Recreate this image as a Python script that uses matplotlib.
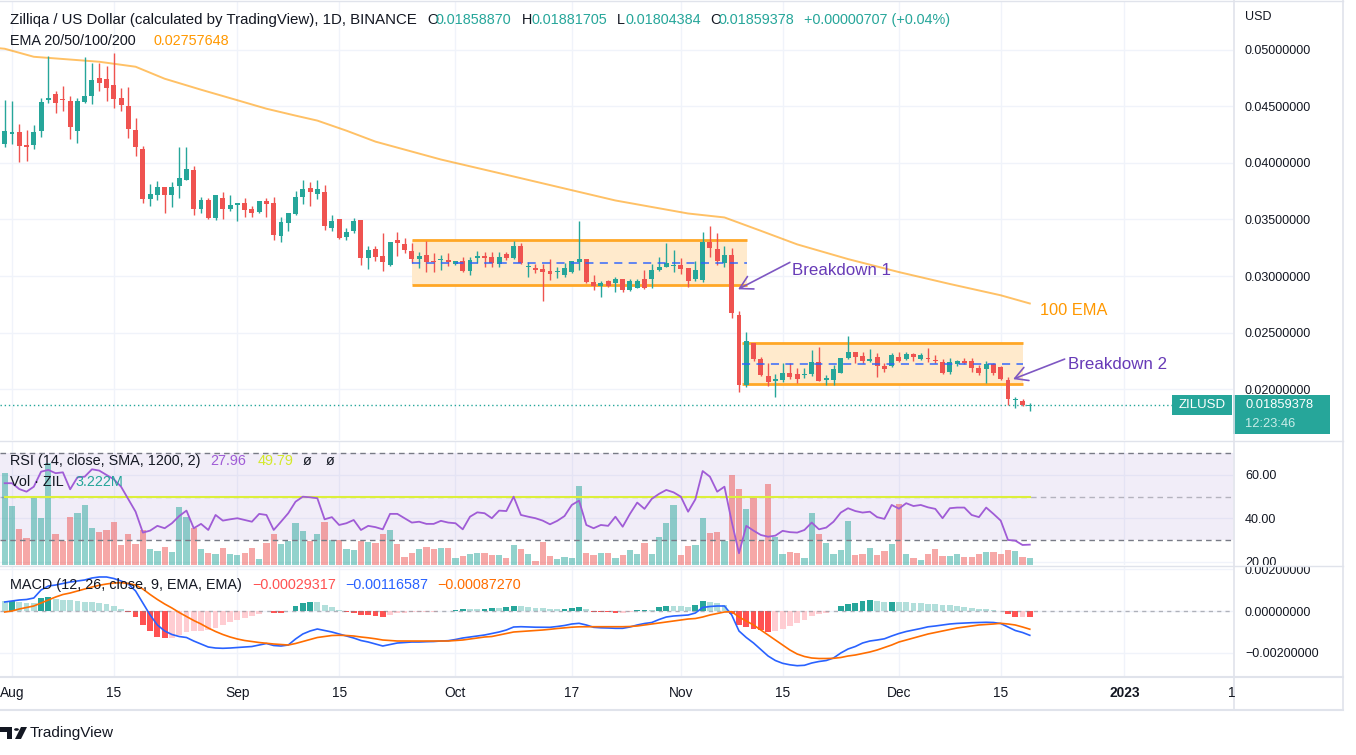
import matplotlib
matplotlib.use("Agg")
import matplotlib.pyplot as plt
import matplotlib.dates as mdates
import numpy as np
import pandas as pd
from matplotlib.lines import Line2D
from matplotlib.patches import Rectangle, Polygon, Circle
from matplotlib.ticker import FuncFormatter
from matplotlib.transforms import Bbox, TransformedBbox

plt.rcParams["font.family"] = ["Liberation Sans", "DejaVu Sans"]

W, H = 1356, 755
TEAL = "#26a69a"
RED = "#ef5350"
INK = "#131722"
GRID = "#f0f3fa"
EDGE = "#e0e3eb"
PURPLE = "#673ab7"

# ---------------- data (ZIL/USD, 1D, Binance) ----------------
dates = pd.date_range("2022-07-31", "2022-12-19", freq="D")

opens = [
    0.04171, 0.04259, 0.04277, 0.04162, 0.04162, 0.04285, 0.04559, 0.04612, 0.04568, 0.04550,
    0.04285, 0.04541, 0.04594, 0.04753, 0.04744, 0.04691, 0.04576, 0.04506, 0.04294, 0.04127,
    0.03677, 0.03712, 0.03783, 0.03712, 0.03800, 0.03853, 0.03941, 0.03589, 0.03668, 0.03509,
    0.03694, 0.03597, 0.03624, 0.03642, 0.03589, 0.03562, 0.03659, 0.03642, 0.03352, 0.03465,
    0.03545, 0.03703, 0.03774, 0.03721, 0.03739, 0.03421, 0.03501, 0.03342, 0.03395, 0.03492,
    0.03156, 0.03236, 0.03174, 0.03095, 0.03315, 0.03280, 0.03218, 0.03148, 0.03183, 0.03130,
    0.03139, 0.03139, 0.03104, 0.03130, 0.03042, 0.03156, 0.03174, 0.03165, 0.03104, 0.03192,
    0.03156, 0.03262, 0.03077, 0.03068, 0.03059, 0.03042, 0.03033, 0.03006, 0.03033, 0.03121,
    0.03148, 0.02945, 0.02910, 0.02954, 0.02936, 0.02971, 0.02874, 0.02892, 0.02971, 0.02971,
    0.03051, 0.03077, 0.03086, 0.03095, 0.03068, 0.02971, 0.02963, 0.03298, 0.03236, 0.03113,
    0.03183, 0.02654, 0.02036, 0.02407, 0.02266, 0.02116, 0.02072, 0.02080, 0.02142, 0.02134,
    0.02125, 0.02134, 0.02239, 0.02080, 0.02080, 0.02142, 0.02274, 0.02327, 0.02292, 0.02248,
    0.02283, 0.02204, 0.02204, 0.02283, 0.02266, 0.02310, 0.02266, 0.02274, 0.02257, 0.02239,
    0.02151, 0.02221, 0.02248, 0.02248, 0.02186, 0.02177, 0.02221, 0.02195, 0.02080, 0.01904,
    0.01895, 0.01858870,
]
highs = [
    0.04559, 0.04550, 0.04347, 0.04294, 0.04338, 0.04576, 0.04947, 0.04638, 0.04682, 0.04594,
    0.04576, 0.04938, 0.04885, 0.04885, 0.04859, 0.04973, 0.04665, 0.04673, 0.04400, 0.04153,
    0.03818, 0.03836, 0.03790, 0.03827, 0.04144, 0.04144, 0.03977, 0.03703, 0.03694, 0.03712,
    0.03747, 0.03712, 0.03645, 0.03686, 0.03615, 0.03662, 0.03694, 0.03703, 0.03518, 0.03556,
    0.03756, 0.03853, 0.03827, 0.03845, 0.03809, 0.03536, 0.03505, 0.03421, 0.03509, 0.03495,
    0.03262, 0.03262, 0.03377, 0.03300, 0.03386, 0.03333, 0.03289, 0.03209, 0.03307, 0.03201,
    0.03183, 0.03201, 0.03133, 0.03165, 0.03165, 0.03218, 0.03209, 0.03209, 0.03209, 0.03209,
    0.03307, 0.03289, 0.03121, 0.03104, 0.03104, 0.03148, 0.03077, 0.03113, 0.03133, 0.03483,
    0.03150, 0.03006, 0.02954, 0.02963, 0.02989, 0.02975, 0.02971, 0.02971, 0.03051, 0.03104,
    0.03165, 0.03289, 0.03227, 0.03156, 0.03070, 0.03130, 0.03386, 0.03439, 0.03377, 0.03263,
    0.03245, 0.02689, 0.02504, 0.02410, 0.02283, 0.02230, 0.02134, 0.02230, 0.02230, 0.02186,
    0.02186, 0.02345, 0.02372, 0.02125, 0.02213, 0.02276, 0.02469, 0.02330, 0.02327, 0.02354,
    0.02319, 0.02230, 0.02319, 0.02327, 0.02327, 0.02319, 0.02319, 0.02363, 0.02301, 0.02266,
    0.02274, 0.02257, 0.02274, 0.02274, 0.02213, 0.02248, 0.02230, 0.02204, 0.02107, 0.01931,
    0.01913, 0.01881705,
]
lows = [
    0.04145, 0.04171, 0.04012, 0.04021, 0.04127, 0.04232, 0.04532, 0.04444, 0.04462, 0.04215,
    0.04180, 0.04532, 0.04524, 0.04638, 0.04550, 0.04488, 0.04462, 0.04224, 0.04065, 0.03642,
    0.03615, 0.03668, 0.03553, 0.03606, 0.03686, 0.03850, 0.03536, 0.03553, 0.03501, 0.03492,
    0.03501, 0.03571, 0.03483, 0.03518, 0.03518, 0.03553, 0.03518, 0.03315, 0.03298, 0.03395,
    0.03536, 0.03633, 0.03615, 0.03677, 0.03403, 0.03395, 0.03330, 0.03315, 0.03377, 0.03095,
    0.03059, 0.03130, 0.03042, 0.03086, 0.03174, 0.03201, 0.03113, 0.03068, 0.03033, 0.03033,
    0.03051, 0.03086, 0.03095, 0.03040, 0.03006, 0.03113, 0.03077, 0.03077, 0.03077, 0.03139,
    0.03148, 0.03110, 0.02989, 0.03024, 0.02777, 0.02963, 0.02980, 0.02989, 0.03030, 0.03051,
    0.02936, 0.02874, 0.02813, 0.02901, 0.02857, 0.02857, 0.02866, 0.02890, 0.02883, 0.02892,
    0.03042, 0.03077, 0.03033, 0.03015, 0.02901, 0.02954, 0.02945, 0.03165, 0.03095, 0.03077,
    0.02627, 0.01975, 0.02019, 0.02248, 0.02116, 0.02028, 0.01931, 0.02063, 0.02089, 0.02054,
    0.02098, 0.02116, 0.02070, 0.02036, 0.02036, 0.02140, 0.02266, 0.02230, 0.02230, 0.02239,
    0.02107, 0.02151, 0.02195, 0.02239, 0.02257, 0.02248, 0.02257, 0.02239, 0.02230, 0.02134,
    0.02134, 0.02204, 0.02221, 0.02151, 0.02125, 0.02054, 0.02125, 0.02085, 0.01860, 0.01834,
    0.01851, 0.01804384,
]
closes = [
    0.04285, 0.04277, 0.04153, 0.04144, 0.04277, 0.04541, 0.04576, 0.04532, 0.04559, 0.04321,
    0.04550, 0.04594, 0.04735, 0.04709, 0.04665, 0.04568, 0.04515, 0.04303, 0.04144, 0.03677,
    0.03721, 0.03783, 0.03712, 0.03783, 0.03871, 0.03950, 0.03597, 0.03668, 0.03509, 0.03712,
    0.03597, 0.03624, 0.03642, 0.03580, 0.03553, 0.03659, 0.03633, 0.03359, 0.03474, 0.03553,
    0.03703, 0.03765, 0.03747, 0.03765, 0.03439, 0.03483, 0.03333, 0.03386, 0.03483, 0.03156,
    0.03227, 0.03165, 0.03121, 0.03298, 0.03289, 0.03227, 0.03148, 0.03174, 0.03121, 0.03121,
    0.03148, 0.03121, 0.03130, 0.03042, 0.03139, 0.03174, 0.03156, 0.03113, 0.03165, 0.03156,
    0.03262, 0.03113, 0.03086, 0.03051, 0.03033, 0.03015, 0.03042, 0.03068, 0.03130, 0.03148,
    0.02945, 0.02910, 0.02936, 0.02910, 0.02971, 0.02874, 0.02954, 0.02954, 0.02892, 0.03051,
    0.03077, 0.03113, 0.03095, 0.03059, 0.02954, 0.03051, 0.03298, 0.03245, 0.03130, 0.03183,
    0.02671, 0.02036, 0.02424, 0.02266, 0.02125, 0.02063, 0.02089, 0.02142, 0.02107, 0.02089,
    0.02134, 0.02239, 0.02072, 0.02098, 0.02177, 0.02274, 0.02327, 0.02283, 0.02248, 0.02266,
    0.02204, 0.02177, 0.02301, 0.02248, 0.02310, 0.02283, 0.02301, 0.02266, 0.02248, 0.02142,
    0.02239, 0.02248, 0.02230, 0.02186, 0.02142, 0.02221, 0.02142, 0.02089, 0.01913, 0.01913,
    0.01860, 0.01859378,
]
volumes_m = [
    40.3, 26.0, 15.8, 11.7, 29.3, 20.5, 45.0, 13.6, 10.6, 21.0,
    22.7, 26.4, 16.1, 14.4, 15.4, 19.1, 8.8, 13.6, 9.2, 15.4,
    7.0, 6.2, 8.1, 5.7, 25.7, 21.0, 16.4, 7.0, 5.4, 4.8,
    7.3, 4.8, 4.4, 5.4, 7.6, 2.8, 9.5, 13.6, 9.2, 10.6,
    18.6, 15.1, 10.6, 13.6, 19.1, 11.0, 11.0, 7.0, 6.6, 10.7,
    10.3, 9.8, 13.6, 15.4, 9.2, 3.7, 5.1, 7.0, 7.8, 6.9,
    7.3, 7.6, 3.2, 4.0, 4.8, 5.4, 5.4, 4.4, 4.4, 3.2,
    8.8, 7.0, 4.8, 1.8, 10.3, 4.0, 2.6, 3.4, 3.2, 34.8,
    5.4, 4.4, 5.4, 5.1, 3.2, 4.4, 6.6, 4.8, 9.5, 4.8,
    12.5, 18.6, 26.4, 4.4, 8.4, 8.8, 20.8, 14.2, 14.7, 10.6,
    39.6, 33.4, 24.6, 29.8, 10.6, 35.6, 12.5, 4.8, 5.6, 5.1,
    3.2, 23.0, 13.6, 9.8, 4.8, 6.6, 19.4, 4.4, 4.8, 7.6,
    4.4, 6.2, 9.2, 26.8, 4.8, 3.2, 2.2, 4.8, 7.0, 4.0,
    4.0, 4.8, 3.5, 3.5, 4.8, 5.9, 5.7, 4.8, 6.6, 6.2,
    3.5, 3.222,
]
rsi = [
    56.2, 56.2, 53.5, 52.3, 54.6, 61.5, 62.3, 60.8, 61.2, 53.4,
    58.9, 59.2, 62.6, 62.0, 60.0, 58.0, 54.6, 48.8, 43.1, 33.5,
    34.4, 36.6, 35.5, 37.8, 41.1, 43.6, 35.5, 37.5, 34.7, 41.6,
    39.0, 39.6, 40.1, 39.3, 38.5, 42.1, 41.6, 34.7, 38.5, 42.4,
    47.7, 50.0, 49.7, 49.3, 39.6, 40.6, 37.0, 37.8, 39.3, 34.7,
    36.6, 36.0, 35.0, 42.1, 42.1, 40.1, 38.1, 38.5, 37.5, 37.5,
    38.9, 38.1, 37.8, 35.0, 40.8, 42.8, 42.4, 40.1, 43.6, 43.4,
    50.0, 41.6, 40.8, 40.1, 39.0, 37.3, 38.9, 41.1, 46.2, 48.2,
    37.0, 35.5, 37.0, 36.6, 40.8, 36.2, 42.1, 47.3, 44.4, 49.0,
    51.3, 53.1, 52.0, 50.0, 43.1, 48.8, 61.8, 59.2, 52.3, 54.6,
    38.5, 24.0, 36.6, 34.4, 32.4, 31.6, 32.1, 34.3, 33.7, 33.5,
    34.7, 38.1, 35.0, 35.8, 38.5, 42.7, 44.7, 43.4, 42.7, 43.1,
    40.6, 39.8, 46.2, 44.5, 47.0, 45.7, 46.2, 45.1, 44.4, 40.1,
    44.7, 45.0, 45.0, 41.6, 40.6, 45.0, 42.1, 39.0, 30.1, 29.8,
    27.8, 27.96,
]
rsi_ma = 49.79
# MACD and signal in thousandths of a dollar
macd_k = [
    0.432, 0.480, 0.528, 0.552, 0.623, 1.007, 1.199, 1.247, 1.319, 1.391,
    1.439, 1.487, 1.583, 1.631, 1.631, 1.559, 1.439, 1.295, 0.959, 0.384,
    -0.192, -0.671, -0.959, -1.127, -1.223, -1.271, -1.439, -1.583, -1.727, -1.775,
    -1.789, -1.775, -1.751, -1.727, -1.703, -1.631, -1.559, -1.655, -1.679, -1.631,
    -1.343, -1.103, -0.959, -0.863, -0.935, -1.007, -1.103, -1.199, -1.295, -1.415,
    -1.487, -1.583, -1.679, -1.607, -1.535, -1.511, -1.487, -1.487, -1.472, -1.463,
    -1.439, -1.424, -1.367, -1.295, -1.247, -1.199, -1.151, -1.079, -1.007, -0.911,
    -0.767, -0.753, -0.767, -0.777, -0.782, -0.782, -0.743, -0.695, -0.623, -0.590,
    -0.671, -0.782, -0.806, -0.815, -0.830, -0.830, -0.767, -0.671, -0.600, -0.552,
    -0.408, -0.288, -0.240, -0.216, -0.192, -0.096, 0.168, 0.216, 0.240, 0.240,
    -0.192, -0.959, -1.271, -1.535, -1.846, -2.158, -2.374, -2.508, -2.580, -2.623,
    -2.604, -2.494, -2.422, -2.374, -2.254, -2.014, -1.822, -1.703, -1.535, -1.439,
    -1.391, -1.333, -1.199, -1.079, -0.983, -0.911, -0.839, -0.758, -0.719, -0.671,
    -0.623, -0.595, -0.576, -0.561, -0.552, -0.542, -0.552, -0.600, -0.767, -0.935,
    -1.031, -1.16587,
]
signal_k = [
    -0.048, 0.000, 0.096, 0.168, 0.240, 0.384, 0.528, 0.671, 0.791, 0.863,
    0.959, 1.055, 1.151, 1.233, 1.295, 1.343, 1.357, 1.319, 1.247, 1.055,
    0.791, 0.552, 0.336, 0.144, -0.072, -0.264, -0.456, -0.623, -0.815, -0.983,
    -1.127, -1.247, -1.343, -1.415, -1.463, -1.511, -1.549, -1.583, -1.607, -1.631,
    -1.559, -1.463, -1.367, -1.271, -1.223, -1.175, -1.165, -1.175, -1.199, -1.247,
    -1.285, -1.333, -1.391, -1.415, -1.439, -1.439, -1.439, -1.439, -1.439, -1.439,
    -1.439, -1.439, -1.415, -1.391, -1.343, -1.295, -1.247, -1.223, -1.151, -1.079,
    -1.007, -0.983, -0.959, -0.935, -0.911, -0.878, -0.839, -0.806, -0.777, -0.758,
    -0.753, -0.753, -0.753, -0.753, -0.753, -0.753, -0.743, -0.719, -0.671, -0.623,
    -0.576, -0.528, -0.480, -0.432, -0.384, -0.360, -0.288, -0.192, -0.120, -0.048,
    -0.034, -0.288, -0.480, -0.671, -0.911, -1.151, -1.391, -1.631, -1.870, -2.062,
    -2.182, -2.254, -2.278, -2.278, -2.269, -2.230, -2.158, -2.110, -2.038, -1.966,
    -1.870, -1.751, -1.631, -1.487, -1.391, -1.295, -1.199, -1.103, -1.031, -0.959,
    -0.887, -0.815, -0.767, -0.719, -0.671, -0.647, -0.623, -0.590, -0.623, -0.671,
    -0.767, -0.87270,
]
ema_dates = ["2022-07-30", "2022-07-31", "2022-08-04", "2022-08-13", "2022-08-18", "2022-08-22",
             "2022-08-27", "2022-09-01", "2022-09-05", "2022-09-09", "2022-09-12", "2022-09-16",
             "2022-09-20", "2022-09-29", "2022-10-09", "2022-10-23", "2022-11-02", "2022-11-07",
             "2022-11-12", "2022-11-17", "2022-11-24", "2022-12-01", "2022-12-08", "2022-12-15",
             "2022-12-19"]
ema_100 = [0.05015, 0.05009, 0.04938, 0.04894, 0.04850, 0.04744, 0.04647, 0.04554, 0.04479,
           0.04418, 0.04374, 0.04285, 0.04188, 0.04030, 0.03880, 0.03668, 0.03553, 0.03518,
           0.03400, 0.03280, 0.03150, 0.03035, 0.02930, 0.02830, 0.027576]

# consolidation ranges: start, end, low, high
ranges = [("2022-09-25 00:00", "2022-11-10 02:00", 0.02918, 0.03315),
          ("2022-11-09 10:00", "2022-12-18 02:00", 0.02042, 0.02404)]

price_ticks = [0.020, 0.025, 0.030, 0.035, 0.040, 0.045, 0.050]
rsi_ticks = [20, 40, 60]
macd_ticks = [-0.002, 0.0, 0.002]
time_ticks = ["2022-08-01", "2022-08-15", "2022-09-01", "2022-09-15", "2022-10-01", "2022-10-17",
              "2022-11-01", "2022-11-15", "2022-12-01", "2022-12-15", "2023-01-01"]
time_labels = ["Aug", "15", "Sep", "15", "Oct", "17", "Nov", "15", "Dec", "15", "2023"]

# ---------------- figure ----------------
fig = plt.figure(figsize=(W / 100, H / 100), dpi=100)
fig.patch.set_facecolor("white")


def frame(x0, y0, x1, y1):
    return [x0 / W, 1 - y1 / H, (x1 - x0) / W, (y1 - y0) / H]


def fline(x0, y0, x1, y1, color=EDGE, lw=1.0):
    fig.add_artist(Line2D([x0 / W, x1 / W], [1 - y0 / H, 1 - y1 / H], color=color, lw=lw))


def ftext(x, y, s, color=INK, size=10.4, **kw):
    fig.text(x / W, 1 - y / H, s, color=color, fontsize=size, va="center", **kw)


xd = mdates.date2num(dates)
o, hi, lo, c = (np.array(v) for v in (opens, highs, lows, closes))
up = c >= o
candle_col = np.where(up, TEAL, RED)

ax = fig.add_axes(frame(0, 1, 1233, 440))
ax_band = fig.add_axes(frame(0, 441, 1233, 565), sharex=ax)
ax_vol = fig.add_axes(frame(0, 441, 1233, 565), sharex=ax)
ax_rsi = fig.add_axes(frame(0, 441, 1233, 565), sharex=ax)
ax_macd = fig.add_axes(frame(0, 566, 1233, 676), sharex=ax)
ax_band.set_zorder(1)
ax_vol.set_zorder(2)
ax_rsi.set_zorder(3)
ax_vol.patch.set_visible(False)
ax_rsi.patch.set_visible(False)

aug1 = mdates.date2num(pd.Timestamp("2022-08-01"))
ax.set_xlim(aug1 - 1.65, aug1 + 167.95)
ax.set_xticks(mdates.date2num(pd.to_datetime(time_ticks)))
ax.set_xticklabels(time_labels)

for a in (ax, ax_band, ax_vol, ax_rsi, ax_macd):
    for s in a.spines.values():
        s.set_visible(False)
    a.tick_params(length=0)
    if a is not ax_macd:
        a.tick_params(axis="x", labelbottom=False)

# ---- price panel
ax.set_ylim(0.01551, 0.05431)
ax.yaxis.tick_right()
ax.set_yticks(price_ticks)
ax.yaxis.set_major_formatter(FuncFormatter(lambda v, _: f"{v:.8f}"))
ax.tick_params(axis="y", pad=8.6, labelsize=9, labelcolor=INK)
ax.grid(True, color=GRID, lw=1)
ax.set_axisbelow(True)

for start, end, low, high in ranges:
    x0, x1 = mdates.date2num(pd.Timestamp(start)), mdates.date2num(pd.Timestamp(end))
    ax.add_patch(Rectangle((x0, low), x1 - x0, high - low, facecolor="#ffeacc", edgecolor="none", zorder=1))
    ax.hlines([low, high], x0, x1, color="#ffa726", lw=2, zorder=2)
    ax.hlines((low + high) / 2, x0, x1, color="#2962ff", lw=1.3, alpha=0.8,
              linestyles=(0, (4.5, 3.5)), zorder=6)

ax.plot(mdates.date2num(pd.to_datetime(ema_dates)), ema_100, color="#ff9800", alpha=0.6, lw=1.4, zorder=2)

body_min = 0.00009
body_h = np.maximum(np.abs(c - o), body_min)
body_lo = np.minimum(o, c) - (body_h - np.abs(c - o)) / 2
ax.vlines(xd, lo, hi, colors=candle_col, lw=1, zorder=4)
ax.bar(xd, body_h, bottom=body_lo, width=0.68, color=candle_col, zorder=5)

ax.axhline(c[-1], color=TEAL, lw=1, ls=(0, (1, 2)), zorder=3)

arrow = dict(arrowstyle="->,head_length=0.5,head_width=0.28", color="#7e57c2", lw=1.2,
             shrinkA=0, shrinkB=0, mutation_scale=18)
t = lambda s: mdates.date2num(pd.Timestamp(s))
ax.annotate("", xy=(t("2022-11-08 21:00"), 0.02883), xytext=(t("2022-11-16 00:00"), 0.03121),
            arrowprops=arrow, zorder=7)
ax.text(t("2022-11-16 07:00"), 0.03051, "Breakdown 1", color=PURPLE, fontsize=12.2, va="center", zorder=7)
ax.annotate("", xy=(t("2022-12-16 17:00"), 0.02089), xytext=(t("2022-12-23 19:00"), 0.02266),
            arrowprops=arrow, zorder=7)
ax.text(t("2022-12-24 07:00"), 0.02222, "Breakdown 2", color=PURPLE, fontsize=12.2, va="center", zorder=7)
ax.text(t("2022-12-20 10:00"), 0.02698, "100 EMA", color="#ff9800", fontsize=11.8, va="center", zorder=7)

# ---- RSI + volume panel
ax_band.set_ylim(18.6, 75.6)
ax_band.axhspan(30, 70, color="#7e57c2", alpha=0.1, lw=0)
ax_band.yaxis.tick_right()
ax_band.set_yticks(rsi_ticks)
ax_band.yaxis.set_major_formatter(FuncFormatter(lambda v, _: f"{v:.2f}"))
ax_band.tick_params(axis="y", pad=8.6, labelsize=9, labelcolor=INK)
ax_band.grid(True, color=GRID, lw=1)
ax_band.set_axisbelow(True)

ax_vol.set_ylim(0, 54.6)
ax_vol.set_yticks([])
vol_col = [(0.149, 0.651, 0.604, 0.5) if u else (0.937, 0.325, 0.314, 0.5) for u in up]
ax_vol.bar(xd, volumes_m, width=0.86, color=vol_col, lw=0)

ax_rsi.set_ylim(18.6, 75.6)
ax_rsi.set_yticks([])
ax_rsi.axhline(70, color="#787b86", lw=1, ls=(0, (4, 3)))
ax_rsi.axhline(30, color="#787b86", lw=1, ls=(0, (4, 3)))
ax_rsi.axhline(50, color="#787b86", alpha=0.5, lw=1, ls=(0, (4, 3)))
ax_rsi.plot([xd[0], xd[-1]], [rsi_ma, rsi_ma], color="#dcef3a", lw=1.5)
ax_rsi.plot(xd, rsi, color="#a05cd6", lw=1.3)

# ---- MACD panel
macd = np.array(macd_k) * 1e-3
signal = np.array(signal_k) * 1e-3
hist = macd - signal
prev = np.concatenate([[hist[0]], hist[:-1]])
hist_col = np.where(hist >= 0, np.where(hist > prev, "#26a69a", "#b2dfdb"),
                    np.where(hist < prev, "#ff5252", "#ffcdd2"))
ax_macd.set_ylim(-0.003117, 0.002158)
ax_macd.yaxis.tick_right()
ax_macd.set_yticks(macd_ticks)
ax_macd.yaxis.set_major_formatter(FuncFormatter(lambda v, _: f"{v:.8f}".replace("-", "\u2212")))
ax_macd.tick_params(axis="y", pad=8.6, labelsize=9, labelcolor=INK)
ax_macd.tick_params(axis="x", pad=7.5, labelsize=9.9, labelcolor=INK)
ax_macd.grid(True, color=GRID, lw=1)
ax_macd.set_axisbelow(True)
ax_macd.bar(xd, hist, width=0.8, color=hist_col, lw=0, zorder=2)
ax_macd.axhline(0, color="#787b86", alpha=0.55, lw=1, ls=(0, (3, 3)), zorder=3)
ax_macd.plot(xd, macd, color="#2962ff", lw=1.2, zorder=4)
ax_macd.plot(xd, signal, color="#ff6d00", lw=1.2, zorder=4)
for lab in ax_macd.get_xticklabels():
    if lab.get_text() == "2023":
        lab.set_fontweight("bold")


def clip_labels(a, y0, y1):
    box = TransformedBbox(Bbox.from_extents(1233 / W, 1 - y1 / H, 1343 / W, 1 - y0 / H), fig.transFigure)
    for lab in a.get_yticklabels():
        lab.set_clip_on(True)
        lab.set_clip_box(box)


clip_labels(ax, 1, 440)
clip_labels(ax_band, 441, 565)
clip_labels(ax_macd, 566, 676)

# ---- frame lines
fline(0, 0.5, 1343, 0.5)
fline(0, 440.5, 1343, 440.5)
fline(0, 565.5, 1343, 565.5)
fline(0, 676.5, 1343, 676.5, lw=1.5)
fline(0, 710, 1343, 710, lw=1.5)
fline(1233.5, 0, 1233.5, 710, lw=1.2)
fline(1343, 0, 1343, 710, lw=1.2)

# ---- headers and legends
ftext(10, 20, "Zilliqa / US Dollar (calculated by TradingView), 1D, BINANCE", size=10.8)
for lx, vx, letter, value in [(427, 435.5, "O", "0.01858870"), (521.5, 531, "H", "0.01881705"),
                              (617, 625, "L", "0.01804384"), (710, 719, "C", "0.01859378")]:
    ftext(lx, 20, letter)
    ftext(vx, 20, value, color=TEAL)
ftext(804, 20, "+0.00000707 (+0.04%)", color=TEAL)
ftext(10, 41, "EMA 20/50/100/200")
ftext(153, 41, "0.02757648", color="#ff9800")

ftext(10, 461, "RSI (14, close, SMA, 1200, 2)")
ftext(210, 461, "27.96", color="#a05cd6")
ftext(258, 461, "49.79", color="#d4e82a")
ftext(303, 461, "\u00f8")
ftext(326, 461, "\u00f8")
ftext(10, 482, "Vol \u00b7 ZIL")
ftext(75, 482, "3.222M", color=TEAL)

ftext(10, 585, "MACD (12, 26, close, 9, EMA, EMA)")
ftext(252, 585, "\u22120.00029317", color="#ff5252")
ftext(345, 585, "\u22120.00116587", color="#2962ff")
ftext(437, 585, "\u22120.00087270", color="#ff6d00")

ftext(1245, 17, "USD", size=9)
ftext(1228, 693, "1", size=9.9)

# ---- last price tags
yp = H - ax.transData.transform((xd[-1], c[-1]))[1]
fig.add_artist(Rectangle((1233 / W, 1 - (yp + 29) / H), 97 / W, 39 / H, transform=fig.transFigure,
                         facecolor=TEAL, edgecolor="none"))
ftext(1245, yp, f"{c[-1]:.8f}", color="white", size=9.3)
ftext(1245, yp + 19, "12:23:46", color="#c8ece8", size=9.3)
fig.add_artist(Rectangle((1172 / W, 1 - (yp + 10) / H), 60 / W, 20 / H, transform=fig.transFigure,
                         facecolor=TEAL, edgecolor="none"))
ftext(1202, yp, "ZILUSD", color="white", size=9.5, ha="center")

# ---- footer logo
logo = [Polygon([(0, 727), (12, 727), (12, 739), (7, 739), (7, 731.5), (0, 731.5)]),
        Polygon([(21, 727), (27, 727), (21, 739), (15, 739)])]
for p in logo:
    p.set_xy([(px / W, 1 - py / H) for px, py in p.get_xy()])
    p.set_transform(fig.transFigure)
    p.set_facecolor(INK)
    p.set_edgecolor("none")
    fig.add_artist(p)
fig.add_artist(Circle((16.5 / W, 1 - 729.5 / H), 2.4 / W, transform=fig.transFigure,
                      facecolor=INK, edgecolor="none"))
ftext(30, 733, "TradingView", size=11)

fig.savefig("out.png", dpi=100, facecolor="white")
